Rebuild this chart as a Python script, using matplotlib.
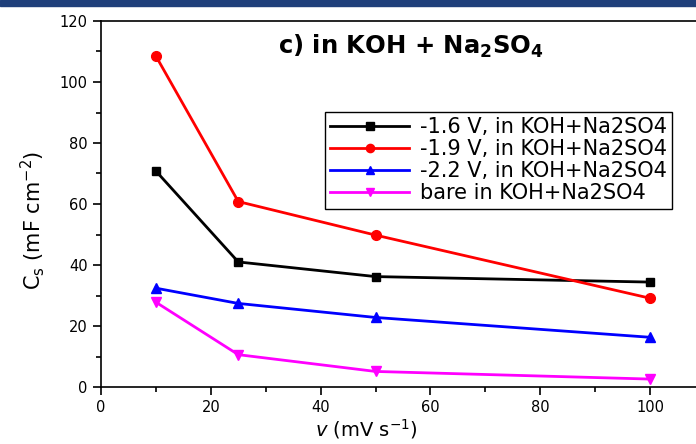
import matplotlib
matplotlib.use("Agg")
import matplotlib.pyplot as plt
from matplotlib.patches import Rectangle
from matplotlib.ticker import MultipleLocator

plt.rcParams['font.family'] = 'DejaVu Sans'
plt.rcParams['mathtext.default'] = 'regular'

# scan rate (mV/s)
scan_rate = [10, 25, 50, 100]

# specific capacitance (mF/cm2)
cs_16 = [70.8, 41.0, 36.2, 34.4]
cs_19 = [108.5, 60.8, 49.8, 29.1]
cs_22 = [32.4, 27.4, 22.8, 16.3]
cs_bare = [27.8, 10.6, 5.1, 2.6]

labels = ['-1.6 V, in KOH+Na2SO4', '-1.9 V, in KOH+Na2SO4',
          '-2.2 V, in KOH+Na2SO4', 'bare in KOH+Na2SO4']

W, H = 696, 444
fig = plt.figure(figsize=(W / 100, H / 100), dpi=100)

# dark blue band at the top of the image
fig.patches.append(Rectangle((0, 1 - 6 / H), 1, 6 / H, transform=fig.transFigure,
                             color='#1f3f7a', zorder=0))

ax = fig.add_axes([101 / W, 57 / H, (705 - 101) / W, 366 / H])

series = [
    (cs_16, 'black', 's', 6),
    (cs_19, 'red', 'o', 7),
    (cs_22, 'blue', '^', 7.5),
    (cs_bare, 'magenta', 'v', 7.5),
]
for (vals, col, mk, ms), lab in zip(series, labels):
    ax.plot(scan_rate, vals, color=col, marker=mk, markersize=ms, lw=2.0,
            label=lab, clip_on=False)

ax.set_xlim(0, 110)
ax.set_ylim(0, 120)
ax.xaxis.set_major_locator(MultipleLocator(20))
ax.xaxis.set_minor_locator(MultipleLocator(10))
ax.yaxis.set_major_locator(MultipleLocator(20))
ax.yaxis.set_minor_locator(MultipleLocator(10))
ax.tick_params(which='major', direction='out', length=6, width=1.2, labelsize=10.5)
ax.tick_params(which='minor', direction='out', length=3.5, width=1.2)
ax.tick_params(top=False, right=False)
for sp in ax.spines.values():
    sp.set_linewidth(1.2)

ax.set_ylabel(r'C$_{s}$ (mF cm$^{-2}$)', fontsize=15)
ax.yaxis.set_label_coords(-0.09, 0.455)
ax.set_xlabel(r'$\it{v}$ (mV s$^{-1}$)', fontsize=14)
ax.xaxis.set_label_coords((366 - 101) / 604, -0.083)

fig.text(411 / W, 1 - 46 / H, r'c) in KOH + Na$_{2}$SO$_{4}$', fontsize=17.5,
         fontweight='bold', ha='center', va='center')

leg = ax.legend(loc='upper left', bbox_to_anchor=(325 / W, 1 - 112 / H),
                bbox_transform=fig.transFigure, fontsize=15, frameon=True,
                fancybox=False, framealpha=1, edgecolor='black',
                handlelength=3.8, handletextpad=0.5, labelspacing=0.1,
                borderpad=0.25, borderaxespad=0, markerscale=0.85)
leg.get_frame().set_linewidth(1.0)

fig.savefig('out.png', dpi=100)
